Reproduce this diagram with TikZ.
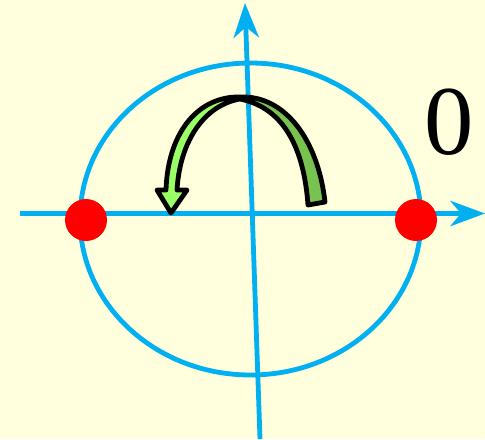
\documentclass[tikz,border=0pt]{standalone}
\usepackage{fontspec}
\setmainfont{Liberation Serif}
\usetikzlibrary{arrows.meta}
\definecolor{bg}{HTML}{FFFFDD}
\definecolor{axisblue}{HTML}{00B0F0}
\definecolor{lgreen}{HTML}{99FF66}
\definecolor{dgreen}{HTML}{78C350}
\tikzset{
  axis/.style={axisblue, line width=3.6pt, -{Stealth[length=26pt,width=19pt,inset=8pt]}},
  ring/.style={axisblue, line width=3.6pt},
  dot/.style={circle, fill=red, minimum size=31.5pt, inner sep=0pt},
  ribbon/.style={draw=black, line width=3.6pt, line join=round},
  lbl/.style={font=\fontsize{74pt}{80pt}\selectfont, inner sep=0pt}
}
\begin{document}
\begin{tikzpicture}[x=0.75pt, y=-0.75pt]
\fill[bg] (0,0) rectangle (485,439);
\useasboundingbox (0,0) rectangle (485,439);
% ellipse
\node[draw=none, inner sep=0pt, minimum size=0pt] (c) at (250.5,219) {};
\draw[ring] (c) ellipse [x radius=170.5, y radius=156];
% axes
\coordinate (hs) at (20,213.5);
\coordinate (he) at (485,213.5);
\coordinate (vs) at (260,439);
\coordinate (ve) at (245,3);
\draw[axis] (hs) -- (he);
\draw[axis] (vs) -- (ve);
% dots
\node[dot] (p1) at (86,220) {};
\node[dot] (p2) at (416,220) {};
% label
\node[lbl] (z) at (449,122) {0};
% ribbon right (dark)
\fill[dgreen] (240,97) .. controls (285,95) and (318,140) .. (325,202)
  -- (308,205) .. controls (304,150) and (285,108) .. (240,99) -- cycle;
% ribbon left (light) with arrow head
\fill[lgreen] (240,97) .. controls (200,96) and (168,130) .. (166,190)
  -- (157,190) -- (171,213) -- (187,190) -- (177,190)
  .. controls (180,140) and (205,105) .. (240,99) -- cycle;
% outline
\draw[ribbon] (308,205) -- (325,202)
  .. controls (318,140) and (285,95) .. (240,97)
  .. controls (200,96) and (168,130) .. (166,190)
  -- (157,190) -- (171,213) -- (187,190) -- (177,190)
  .. controls (180,140) and (205,105) .. (240,99)
  .. controls (285,108) and (304,150) .. (308,205) -- cycle;
\end{tikzpicture}
\end{document}
